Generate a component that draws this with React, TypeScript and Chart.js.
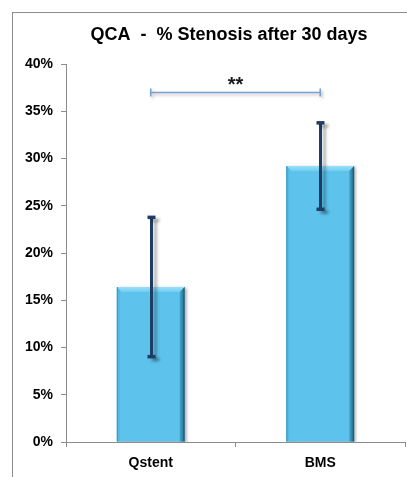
import React, { useEffect, useRef } from 'react';
import { Chart, registerables } from 'chart.js';

Chart.register(...registerables);

// ---- data ----
const categories = ['Qstent', 'BMS'];
const meanValues = [16.4, 29.2];
const errorValues = [7.4, 4.6];
const yTickValues = [0, 5, 10, 15, 20, 25, 30, 35, 40];
const chartTitle = 'QCA  -  % Stenosis after 30 days';
const significanceLabel = '**';
const significanceLevel = 37;
const significancePair = [0, 1];

const FONT = "Arial, 'Liberation Sans', sans-serif";

const framePlugin = {
  id: 'frame',
  beforeDraw(chart: any) {
    const ctx = chart.ctx;
    ctx.save();
    ctx.fillStyle = '#ffffff';
    ctx.fillRect(0, 0, chart.width, chart.height);
    ctx.strokeStyle = '#8c8c8c';
    ctx.lineWidth = 1;
    ctx.strokeRect(12.5, 12.5, chart.width + 50, chart.height + 50);
    ctx.restore();
  },
};

const titlePlugin = {
  id: 'customTitle',
  afterDraw(chart: any) {
    const ctx = chart.ctx;
    ctx.save();
    ctx.font = `bold 18px ${FONT}`;
    ctx.fillStyle = '#000000';
    ctx.textAlign = 'center';
    ctx.textBaseline = 'alphabetic';
    ctx.fillText(chartTitle, 229, 40);
    ctx.restore();
  },
};

const shadowPlugin = {
  id: 'barShadow',
  beforeDatasetsDraw(chart: any) {
    const ctx = chart.ctx;
    ctx.save();
    ctx.shadowColor = 'rgba(0,0,0,0.35)';
    ctx.shadowOffsetX = 2;
    ctx.shadowOffsetY = 1;
    ctx.shadowBlur = 3;
  },
  afterDatasetsDraw(chart: any) {
    chart.ctx.restore();
  },
};

const decorPlugin = {
  id: 'decor',
  afterDatasetsDraw(chart: any) {
    const ctx = chart.ctx;
    const meta = chart.getDatasetMeta(0);
    const yScale = chart.scales.y;
    const xScale = chart.scales.x;

    // bevels
    meta.data.forEach((bar: any) => {
      const w = bar.width;
      const L = bar.x - w / 2;
      const R = bar.x + w / 2;
      const T = bar.y;
      const B = bar.base;
      const b = 5;
      ctx.save();
      // top bevel
      const gTop = ctx.createLinearGradient(0, T, 0, T + b);
      gTop.addColorStop(0, '#9BE0F8');
      gTop.addColorStop(1, '#6FCDF2');
      ctx.fillStyle = gTop;
      ctx.beginPath();
      ctx.moveTo(L, T);
      ctx.lineTo(R, T);
      ctx.lineTo(R - b, T + b);
      ctx.lineTo(L + b, T + b);
      ctx.closePath();
      ctx.fill();
      // left bevel
      ctx.fillStyle = '#55B9E2';
      ctx.beginPath();
      ctx.moveTo(L, T);
      ctx.lineTo(L + 3, T + 3);
      ctx.lineTo(L + 3, B);
      ctx.lineTo(L, B);
      ctx.closePath();
      ctx.fill();
      ctx.fillStyle = '#3C95BC';
      ctx.fillRect(L, T, 1, B - T);
      // right bevel
      const gR = ctx.createLinearGradient(R - b, 0, R, 0);
      gR.addColorStop(0, '#4AAAD2');
      gR.addColorStop(0.6, '#2F7FA3');
      gR.addColorStop(1, '#1B4B61');
      ctx.fillStyle = gR;
      ctx.beginPath();
      ctx.moveTo(R, T);
      ctx.lineTo(R, B);
      ctx.lineTo(R - b, B);
      ctx.lineTo(R - b, T + b);
      ctx.closePath();
      ctx.fill();
      ctx.restore();
    });

    // error bars
    meta.data.forEach((bar: any, i: number) => {
      const x = Math.round(bar.x) + 0.5;
      const yHi = yScale.getPixelForValue(meanValues[i] + errorValues[i]);
      const yLo = yScale.getPixelForValue(meanValues[i] - errorValues[i]);
      ctx.save();
      ctx.shadowColor = 'rgba(0,0,0,0.3)';
      ctx.shadowOffsetX = 4;
      ctx.shadowOffsetY = 3;
      ctx.shadowBlur = 3;
      ctx.strokeStyle = '#1F3C64';
      ctx.fillStyle = '#1F3C64';
      ctx.lineWidth = 3;
      ctx.beginPath();
      ctx.moveTo(x, yHi);
      ctx.lineTo(x, yLo);
      ctx.stroke();
      ctx.fillRect(x - 4, yHi - 1.5, 8, 3.5);
      ctx.fillRect(x - 4, yLo - 2, 8, 3.5);
      ctx.restore();
    });

    // significance bracket
    const x1 = xScale.getPixelForValue(significancePair[0]);
    const x2 = xScale.getPixelForValue(significancePair[1]);
    const yb = Math.round(yScale.getPixelForValue(significanceLevel)) + 0.5;
    ctx.save();
    ctx.shadowColor = 'rgba(0,0,0,0.25)';
    ctx.shadowOffsetX = 2;
    ctx.shadowOffsetY = 2;
    ctx.shadowBlur = 3;
    ctx.strokeStyle = '#7B9ED1';
    ctx.lineWidth = 1.6;
    ctx.beginPath();
    ctx.moveTo(x1, yb);
    ctx.lineTo(x2, yb);
    ctx.moveTo(x1, yb - 4);
    ctx.lineTo(x1, yb + 4);
    ctx.moveTo(x2, yb - 4);
    ctx.lineTo(x2, yb + 4);
    ctx.stroke();
    ctx.restore();

    ctx.save();
    ctx.font = `bold 20px ${FONT}`;
    ctx.fillStyle = '#1a1a1a';
    ctx.textAlign = 'center';
    ctx.textBaseline = 'alphabetic';
    ctx.fillText(significanceLabel, (x1 + x2) / 2, yb - 2);
    ctx.restore();
  },
};

export default function App() {
  const canvasRef = useRef<HTMLCanvasElement | null>(null);

  useEffect(() => {
    document.body.style.margin = '0';
    const canvas = canvasRef.current;
    if (!canvas) return;
    const chart = new Chart(canvas, {
      type: 'bar',
      data: {
        labels: categories,
        datasets: [
          {
            data: meanValues,
            backgroundColor: '#5DC3EC',
            borderWidth: 0,
            barPercentage: 0.4,
            categoryPercentage: 1,
          },
        ],
      },
      options: {
        responsive: false,
        animation: false,
        devicePixelRatio: 1,
        layout: { padding: { top: 64, left: 0, right: 2, bottom: 0 } },
        plugins: {
          legend: { display: false },
          title: { display: false },
          tooltip: { enabled: false },
        },
        scales: {
          x: {
            offset: true,
            grid: {
              offset: true,
              drawOnChartArea: false,
              drawTicks: true,
              tickLength: 5,
              color: '#8c8c8c',
            },
            border: { color: '#8c8c8c', width: 1 },
            ticks: {
              color: '#000000',
              font: { family: FONT, size: 14, weight: 'bold' },
              padding: 8,
            },
            afterFit(scale: any) {
              scale.height = 35;
            },
          },
          y: {
            min: 0,
            max: 40,
            afterBuildTicks(scale: any) {
              scale.ticks = yTickValues.map((v) => ({ value: v }));
            },
            grid: {
              drawOnChartArea: false,
              drawTicks: true,
              tickLength: 5,
              color: '#8c8c8c',
            },
            border: { color: '#8c8c8c', width: 1 },
            ticks: {
              color: '#000000',
              font: { family: FONT, size: 14, weight: 'bold' },
              padding: 8,
              callback: (v: any) => `${v}%`,
            },
            afterFit(scale: any) {
              scale.width = 66;
            },
          },
        },
      },
      plugins: [framePlugin, shadowPlugin, decorPlugin, titlePlugin],
    } as any);
    return () => chart.destroy();
  }, []);

  return (
    <div style={{ width: 407, height: 477 }}>
      <canvas ref={canvasRef} width={407} height={477} style={{ display: 'block' }} />
    </div>
  );
}
